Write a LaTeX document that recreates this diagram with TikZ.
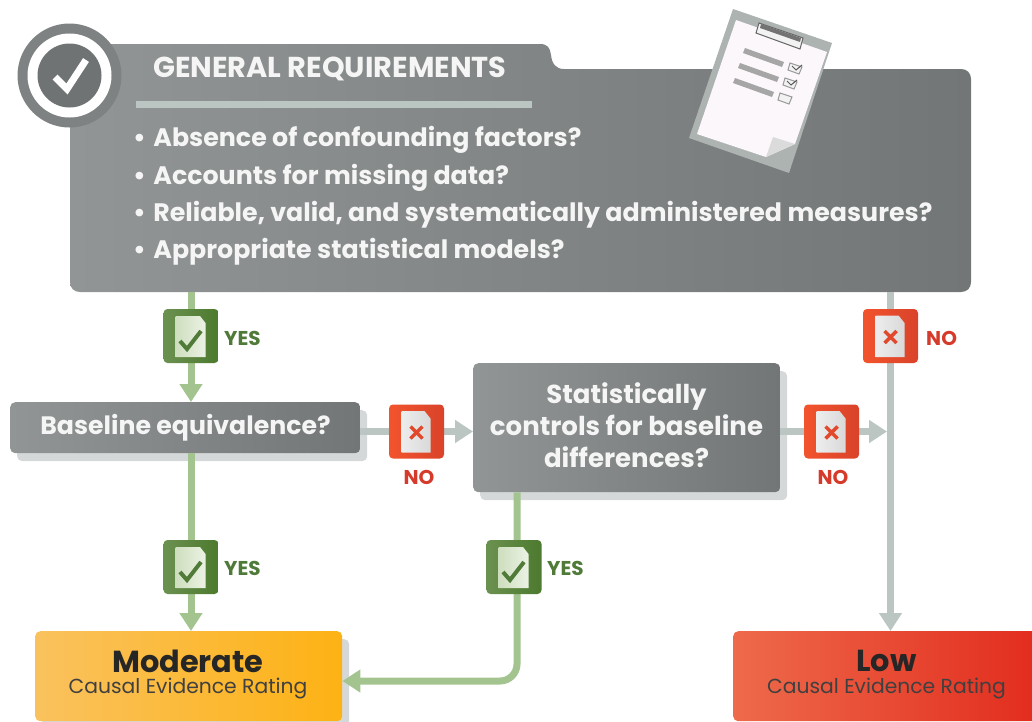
\documentclass[tikz,border=0pt]{standalone}
\usepackage{fontspec}
\setmainfont{Poppins}
\usetikzlibrary{arrows.meta,shadows,backgrounds}
\definecolor{flowgreen}{HTML}{A3C48F}
\definecolor{flowgray}{HTML}{BBC5C2}
\definecolor{boxshadow}{HTML}{D5D8D8}
\definecolor{yeslabel}{HTML}{4F7A38}
\definecolor{nolabel}{HTML}{D63A2A}
\definecolor{softwhite}{HTML}{F4F5F4}
\definecolor{crossred}{HTML}{E2482B}
\definecolor{panelleft}{HTML}{929595}
\definecolor{panelmid}{HTML}{808484}
\definecolor{panelright}{HTML}{727676}
\pgfdeclarelayer{badges}
\pgfsetlayers{main,badges}
\tikzset{
  flowyes/.style={line width=7pt, draw=flowgreen, -{Triangle[width=22pt,length=18pt]}},
  flowno/.style={line width=7pt, draw=flowgray, -{Triangle[width=22pt,length=18pt]}},
  shadowbox/.style={rectangle, rounded corners=5pt, inner sep=0pt, anchor=north west,
    drop shadow={shadow xshift=7pt, shadow yshift=-8pt, fill=boxshadow, opacity=1},
    left color=panelleft, middle color=panelmid, right color=panelright},
  badgeyes/.style={rectangle, rounded corners=4pt, minimum width=55pt, minimum height=54pt, inner sep=0pt,
    left color={rgb,255:red,107;green,145;blue,80}, right color={rgb,255:red,76;green,122;blue,46}},
  badgeno/.style={rectangle, rounded corners=4pt, minimum width=55pt, minimum height=54pt, inner sep=0pt,
    left color={rgb,255:red,242;green,84;blue,45}, right color={rgb,255:red,217;green,67;blue,42}},
  yestext/.style={font=\fontsize{20}{20}\selectfont\bfseries, text=yeslabel, inner sep=0pt},
  notext/.style={font=\fontsize{20}{20}\selectfont\bfseries, text=nolabel, inner sep=0pt},
  qtext/.style={font=\fontsize{26}{32}\selectfont\bfseries, text=softwhite, inner sep=0pt, align=center},
  itemtext/.style={font=\fontsize{25.3}{25.3}\selectfont\bfseries, text=softwhite, inner sep=0pt, anchor=base west},
  ratetitle/.style={font=\fontsize{30.4}{30.4}\selectfont\bfseries, text=black!85, inner sep=0pt},
  ratesub/.style={font=\fontsize{20.3}{20.3}\selectfont, text=black!75, inner sep=0pt},
}
\begin{document}
\begin{tikzpicture}[x=1pt, y=-1pt]
\useasboundingbox (0,0) rectangle (1032,721);

% Requirements panel
\shade[left color=panelleft, middle color=panelmid, right color=panelright]
  (70,80) -- (100,44) -- (540,44) .. controls (548,44) and (550,48) .. (551,55)
  .. controls (552,64) and (556,69) .. (564,69) -- (961,69)
  .. controls (967,69) and (971,73) .. (971,79) -- (971,282)
  .. controls (971,288) and (967,292) .. (961,292) -- (80,292)
  .. controls (74,292) and (70,288) .. (70,282) -- cycle;
\node [minimum width=901pt, minimum height=223pt, inner sep=0pt] (panel) at (520.5,180.5) {};

% Check ring
\node [circle, fill={rgb,255:red,126;green,130;blue,130}, minimum size=104pt, inner sep=0pt] (ring) at (69.5,75.5) {};
\node [circle, fill=white, minimum size=84pt, inner sep=0pt] (ringwhite) at (ring.center) {};
\node [circle, fill={rgb,255:red,111;green,115;blue,115}, minimum size=64pt, inner sep=0pt] (ringcore) at (ring.center) {};
\draw [white, line width=7pt] (55,77) -- (67,89) -- (86,60);

% Title and items
\node [font=\fontsize{28.8}{28.8}\selectfont\bfseries, text=softwhite, inner sep=0pt, anchor=base west] (title) at (153,77) {GENERAL REQUIREMENTS};
\fill [flowgray] (136,101) rectangle (532,108);
\foreach \t/\yy [count=\k] in {{Absence of confounding factors?}/146, {Accounts for missing data?}/184, {Reliable, valid, and systematically administered measures?}/221, {Appropriate statistical models?}/258}
  \node [itemtext] (item-\k) at (133,\yy) {•\hspace{7.5pt}\t};

% Clipboard
\fill [fill={rgb,255:red,173;green,179;blue,177}] (733,9) -- (832,43) -- (789,173) -- (689,138) -- cycle;
\fill [white!97!violet] (736,20) -- (827,52) -- (795,144) -- (766,157) -- (697,134) -- cycle;
\fill [black!14] (773,137) -- (795,144) -- (766,157) -- cycle;
\draw [black!60, line width=1pt, fill=black!5] (759,23) -- (803,38) -- (800,49) -- (756,33) -- cycle;
\fill [black!55] (761,24) -- (801,38) -- (800,42) -- (760,28) -- cycle;
\foreach \r in {0,1,2} {
  \fill [black!35, shift={(-5*\r,15*\r)}] (745,48) -- (784,62) -- (782,67) -- (743,53) -- cycle;
  \draw [black!40, line width=1pt, fill=black!5, shift={(-5*\r,15*\r)}] (790,63) -- (802,67) -- (799,74) -- (788,70) -- cycle;
}
\foreach \r in {0,1}
  \draw [black!65, line width=1pt, shift={(-5*\r,15*\r)}] (792,66) -- (796,70) -- (802,65);

% Question boxes
\node [shadowbox, minimum width=350pt, minimum height=51pt] (box1) at (10,402) {};
\node [qtext, font=\fontsize{25.2}{32}\selectfont\bfseries] (box1-text) at (185.5,428) {Baseline equivalence?};
\node [shadowbox, minimum width=307pt, minimum height=129pt] (box2) at (473,363) {};
\node [qtext] (box2-text) at (626.5,425) {Statistically\\controls for baseline\\differences?};

% Rating boxes
\node [rectangle, rounded corners=5pt, inner sep=0pt, anchor=north west, minimum width=307pt, minimum height=90pt,
  drop shadow={shadow xshift=7pt, shadow yshift=-8pt, fill=boxshadow, opacity=1},
  left color={rgb,255:red,250;green,194;blue,94}, middle color={rgb,255:red,253;green,184;blue,50}, right color={rgb,255:red,253;green,178;blue,20}] (moderate) at (35,631) {};
\node [ratetitle] (moderate-title) at (188,661) {Moderate};
\node [ratesub] (moderate-sub) at (188,689) {Causal Evidence Rating};
\node [rectangle, rounded corners=5pt, inner sep=0pt, anchor=north west, minimum width=307pt, minimum height=90pt,
  left color={rgb,255:red,238;green,106;blue,74}, middle color={rgb,255:red,238;green,104;blue,72}, right color={rgb,255:red,226;green,44;blue,30}] (low) at (733,631) {};
\node [ratetitle] (low-title) at (886.5,661) {Low};
\node [ratesub] (low-sub) at (886.5,689) {Causal Evidence Rating};

% Badges
\begin{pgfonlayer}{badges}
\foreach \nm/\bx/\by in {yes1/191/336, yes2/191/567, yes3/514/567} {
  \node [badgeyes] (\nm) at (\bx,\by) {};
  \shade [left color={rgb,255:red,205;green,222;blue,190}, right color={rgb,255:red,236;green,242;blue,228}, shift={(\nm.center)}]
    (-15.5,-20) -- (9,-20) -- (14.5,-13) -- (14.5,21) -- (-15.5,21) -- cycle;
  \draw [yeslabel, line width=4pt, shift={(\nm.center)}] (-11,5) -- (-4,13) -- (10,-5);
}
\foreach \nm/\bx/\by in {no1/416.5/431.5, no2/831.5/431.5, no3/890.5/336} {
  \node [badgeno] (\nm) at (\bx,\by) {};
  \shade [left color=black!7, right color=black!15, shift={(\nm.center)}]
    (-15,-20.5) -- (8,-20.5) -- (14,-13) -- (14,21) -- (-15,21) -- cycle;
  \draw [crossred, line width=3.5pt, shift={(\nm.center)}] (-6,-5) -- (6,7) (6,-5) -- (-6,7);
}
\end{pgfonlayer}

% Badge labels
\node [yestext, anchor=west] (yes1-label) at (224,338) {YES};
\node [yestext, anchor=west] (yes2-label) at (224,568) {YES};
\node [yestext, anchor=west] (yes3-label) at (547,568) {YES};
\node [notext] (no1-label) at (419,477) {NO};
\node [notext] (no2-label) at (833,477) {NO};
\node [notext, anchor=west] (no3-label) at (926,338) {NO};

% Connections
\coordinate (bend) at (517,681);
\draw [flowyes] (panel.south -| yes1.center) -- (box1.north -| yes1.center);
\draw [flowyes] (box1.south -| yes2.center) -- (moderate.north -| yes2.center);
\draw [flowyes, rounded corners=17pt] (box2.south -| bend) -- (bend) -- (moderate.east |- bend);
\draw [flowno] (box1.east |- no1.center) -- (box2.west |- no1.center);
\draw [flowno] (panel.south -| no3.center) -- (low.north -| no3.center);
\draw [flowno, shorten >=3.5pt] (box2.east |- no2.center) -- (no3.center |- no2.center);
\end{tikzpicture}
\end{document}
